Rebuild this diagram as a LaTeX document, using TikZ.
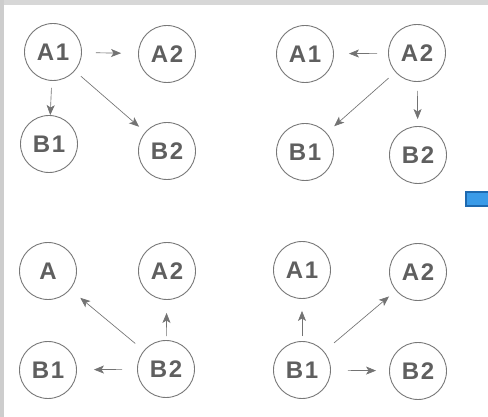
\documentclass[tikz,border=0pt]{standalone}
\usepackage{fontspec}
\newfontfamily\kreisfont[LetterSpace=7]{Liberation Sans}
\usetikzlibrary{arrows.meta}

\definecolor{kreisgrau}{RGB}{120,120,120}
\definecolor{textgrau}{RGB}{95,95,95}
\definecolor{pfeilgrau}{RGB}{115,115,115}
\definecolor{randgrau}{RGB}{205,205,205}
\definecolor{knopfblau}{RGB}{58,155,232}
\definecolor{knopfrand}{RGB}{30,105,175}

\tikzset{
  stato/.style={circle, draw=kreisgrau, line width=0.9pt, minimum size=57pt, inner sep=0pt,
    text=textgrau, font=\kreisfont\bfseries\fontsize{24}{28}\selectfont},
  pfeil/.style={pfeilgrau, line width=0.65pt, -{Stealth[length=10pt,width=8pt,inset=2.5pt]}}
}

\begin{document}
\begin{tikzpicture}[x=1pt, y=-1pt]
    % sfondo
    \useasboundingbox (0,0) rectangle (488,417);
    \fill[white] (0,0) rectangle (488,417);
    \fill[randgrau!80] (0,0) rectangle (488,5);
    \fill[randgrau] (0,0) rectangle (4,417);

    % primo gruppo
    \node[stato] (pA1) at (53,52) {A1};
    \node[stato] (pA2) at (167,54) {A2};
    \node[stato] (pB1) at (49,144) {B1};
    \node[stato] (pB2) at (167,151) {B2};
    \draw[pfeil, shorten <=14pt, shorten >=17pt] (pA1) -- (pA2);
    \draw[pfeil, shorten <=7pt, shorten >=0pt] (pA1) -- (pB1);
    \draw[pfeil, shorten <=8pt, shorten >=8pt] (pA1) -- (pB2);

    % secondo gruppo
    \node[stato] (qA1) at (305,54) {A1};
    \node[stato] (qA2) at (417,53) {A2};
    \node[stato] (qB1) at (305,152) {B1};
    \node[stato] (qB2) at (418,155) {B2};
    \draw[pfeil, shorten <=11pt, shorten >=15pt] (qA2) -- (qA1);
    \draw[pfeil, shorten <=9pt, shorten >=10pt] (qA2) -- (qB1);
    \draw[pfeil, shorten <=9pt, shorten >=7pt] (qA2) -- (qB2);

    % terzo gruppo
    \node[stato] (rA) at (48,271) {A};
    \node[stato] (rA2) at (167,271) {A2};
    \node[stato] (rB1) at (48,370) {B1};
    \node[stato] (rB2) at (166,369) {B2};
    \draw[pfeil, shorten <=11pt, shorten >=13pt] (rB2) -- (rA);
    \draw[pfeil, shorten <=4pt, shorten >=13pt] (rB2) -- (rA2);
    \draw[pfeil, shorten <=15pt, shorten >=17pt] (rB2) -- (rB1);

    % quarto gruppo
    \node[stato] (sA1) at (302,270) {A1};
    \node[stato] (sA2) at (418,272) {A2};
    \node[stato] (sB1) at (302,370) {B1};
    \node[stato] (sB2) at (418,371) {B2};
    \draw[pfeil, shorten <=5pt, shorten >=12pt] (sB1) -- (sA1);
    \draw[pfeil, shorten <=13pt, shorten >=9pt] (sB1) -- (sA2);
    \draw[pfeil, shorten <=17pt, shorten >=13pt] (sB1) -- (sB2);

    % pulsante
    \filldraw[fill=knopfblau, draw=knopfrand, line width=1.8pt] (466,192) rectangle (489,206);
\end{tikzpicture}
\end{document}
